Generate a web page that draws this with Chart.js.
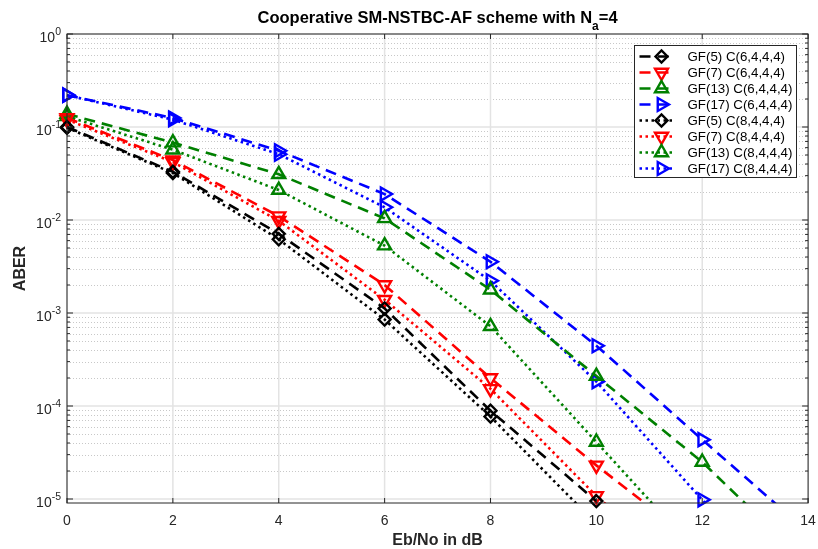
<!DOCTYPE html>
<html>
<head>
<meta charset="utf-8">
<title>ABER vs Eb/No</title>
<script src="https://cdn.jsdelivr.net/npm/chart.js@4.4.0/dist/chart.umd.min.js"></script>
<style>
  html, body { margin: 0; padding: 0; background: #fff; }
  canvas { display: block; }
</style>
</head>
<body>
<canvas id="aber" width="818" height="549"></canvas>
<script>
// Eb/No points (dB) and axis ticks
const ebno = [0, 2, 4, 6, 8, 10, 12, 14];
const xTicks = [0, 2, 4, 6, 8, 10, 12, 14];
const yExponents = [-5, -4, -3, -2, -1, 0];

// ABER, code C(6,4,4,4)
const gf5C6  = [0.100, 0.0330, 0.0071, 0.00112, 8.9e-5, 9.5e-6, null, null];
const gf7C6  = [0.125, 0.0440, 0.0110, 0.00200, 2.0e-4, 2.3e-5, 3.0e-6, null];
const gf13C6 = [0.138, 0.0680, 0.0310, 0.01040, 1.78e-3, 2.1e-4, 2.5e-5, 2.0e-6];
const gf17C6 = [0.220, 0.1250, 0.0556, 0.01900, 3.56e-3, 4.45e-4, 4.35e-5, 4.4e-6];
// ABER, code C(8,4,4,4)
const gf5C8  = [0.098, 0.0320, 0.0062, 0.00085, 7.7e-5, 5.4e-6, null, null];
const gf7C8  = [0.120, 0.0420, 0.0098, 0.00139, 1.53e-4, 1.08e-5, 1.1e-6, null];
const gf13C8 = [0.130, 0.0570, 0.0210, 0.00530, 7.2e-4, 4.1e-5, 2.3e-6, null];
const gf17C8 = [0.220, 0.1200, 0.0510, 0.01370, 2.22e-3, 1.83e-4, 9.8e-6, 5.4e-7];

const Y_MIN = 9.06e-6, Y_MAX = 1;
const FONT = '"Liberation Sans", Arial, Helvetica, sans-serif';
const AXIS = '#262626';
const DASHED = [11, 7];
const DOTTED = [2.5, 3.5];

const series = [
  { label: 'GF(5) C(6,4,4,4)',  data: gf5C6,  color: '#000000', marker: 'rectRot',  rot: 0,   dash: DASHED },
  { label: 'GF(7) C(6,4,4,4)',  data: gf7C6,  color: '#ff0000', marker: 'triangle', rot: 180, dash: DASHED },
  { label: 'GF(13) C(6,4,4,4)', data: gf13C6, color: '#008000', marker: 'triangle', rot: 0,   dash: DASHED },
  { label: 'GF(17) C(6,4,4,4)', data: gf17C6, color: '#0000ff', marker: 'triangle', rot: 90,  dash: DASHED },
  { label: 'GF(5) C(8,4,4,4)',  data: gf5C8,  color: '#000000', marker: 'rectRot',  rot: 0,   dash: DOTTED },
  { label: 'GF(7) C(8,4,4,4)',  data: gf7C8,  color: '#ff0000', marker: 'triangle', rot: 180, dash: DOTTED },
  { label: 'GF(13) C(8,4,4,4)', data: gf13C8, color: '#008000', marker: 'triangle', rot: 0,   dash: DOTTED },
  { label: 'GF(17) C(8,4,4,4)', data: gf17C8, color: '#0000ff', marker: 'triangle', rot: 90,  dash: DOTTED },
];

const markerRadius = m => (m === 'rectRot' ? 6 : 7.5);

// each curve is a clipped line plus an unclipped marker set
const datasets = [];
series.forEach(s => {
  const pts = s.data.map((v, i) => ({ x: ebno[i], y: v }));
  datasets.push({
    label: s.label,
    data: pts,
    borderColor: s.color,
    borderWidth: 2.6,
    borderDash: s.dash,
    pointRadius: 0,
    fill: false,
    tension: 0,
    clip: { left: 2, right: 2, top: 2, bottom: 0 },
  });
  datasets.push({
    label: s.label + ' markers',
    data: pts.filter(p => p.y !== null && p.y >= Y_MIN),
    showLine: false,
    pointStyle: s.marker,
    pointRotation: s.rot,
    pointRadius: markerRadius(s.marker),
    pointBorderColor: s.color,
    pointBackgroundColor: 'rgba(0,0,0,0)',
    pointBorderWidth: 2.4,
    clip: false,
  });
});

function seg(ctx, x1, y1, x2, y2) {
  ctx.beginPath(); ctx.moveTo(x1, y1); ctx.lineTo(x2, y2); ctx.stroke();
}

function drawMarker(ctx, style, rot, r, x, y) {
  ctx.beginPath();
  if (style === 'rectRot') {
    ctx.moveTo(x - r, y); ctx.lineTo(x, y - r); ctx.lineTo(x + r, y); ctx.lineTo(x, y + r);
  } else {
    let a = rot * Math.PI / 180;
    ctx.moveTo(x + Math.sin(a) * r, y - Math.cos(a) * r);
    for (let k = 0; k < 2; k++) {
      a += 2 * Math.PI / 3;
      ctx.lineTo(x + Math.sin(a) * r, y - Math.cos(a) * r);
    }
  }
  ctx.closePath();
  ctx.stroke();
}

const matlabAxes = {
  id: 'matlabAxes',
  beforeDatasetsDraw(chart) {
    const { ctx, chartArea: a, scales: { x, y } } = chart;
    ctx.save();
    ctx.lineWidth = 1;
    // minor grid (dotted) on the log axis
    ctx.strokeStyle = '#c8c8c8';
    ctx.setLineDash([1, 2]);
    yExponents.forEach(e => {
      for (let k = 2; k <= 9; k++) {
        const v = k * Math.pow(10, e);
        if (v < Y_MIN || v > Y_MAX) continue;
        const py = Math.round(y.getPixelForValue(v)) + 0.5;
        seg(ctx, a.left, py, a.right, py);
      }
    });
    // major grid
    ctx.setLineDash([]);
    ctx.strokeStyle = '#e3e3e3';
    ctx.lineWidth = 1.5;
    xTicks.forEach(t => {
      const px = x.getPixelForValue(t);
      seg(ctx, px, a.top, px, a.bottom);
    });
    yExponents.forEach(e => {
      const py = y.getPixelForValue(Math.pow(10, e));
      seg(ctx, a.left, py, a.right, py);
    });
    ctx.restore();
  },
  afterDatasetsDraw(chart) {
    const { ctx, chartArea: a, scales: { x, y } } = chart;
    ctx.save();
    ctx.strokeStyle = AXIS;
    ctx.lineWidth = 1;
    ctx.strokeRect(a.left, a.top, a.right - a.left, a.bottom - a.top);

    // tick marks
    xTicks.forEach(t => {
      const px = x.getPixelForValue(t);
      seg(ctx, px, a.bottom, px, a.bottom - 5);
      seg(ctx, px, a.top, px, a.top + 5);
    });
    yExponents.forEach(e => {
      const py = y.getPixelForValue(Math.pow(10, e));
      seg(ctx, a.left, py, a.left + 6, py);
      seg(ctx, a.right, py, a.right - 6, py);
      for (let k = 2; k <= 9; k++) {
        const v = k * Math.pow(10, e);
        if (v < Y_MIN || v > Y_MAX) continue;
        const pm = y.getPixelForValue(v);
        seg(ctx, a.left, pm, a.left + 3, pm);
        seg(ctx, a.right, pm, a.right - 3, pm);
      }
    });

    // tick labels
    ctx.fillStyle = AXIS;
    ctx.textBaseline = 'alphabetic';
    ctx.font = '14px ' + FONT;
    ctx.textAlign = 'center';
    xTicks.forEach(t => ctx.fillText(String(t), x.getPixelForValue(t), a.bottom + 22));

    ctx.textAlign = 'left';
    yExponents.forEach(e => {
      const py = y.getPixelForValue(Math.pow(10, e));
      const exp = e === 0 ? '0' : '-' + Math.abs(e);
      ctx.font = '10.5px ' + FONT;
      const we = ctx.measureText(exp).width;
      ctx.font = '14px ' + FONT;
      const wb = ctx.measureText('10').width;
      const right = a.left - 6;
      ctx.fillText('10', right - we - wb, py + 8);
      ctx.font = '10.5px ' + FONT;
      ctx.fillText(exp, right - we, py + 1);
    });

    // axis titles
    ctx.fillStyle = AXIS;
    ctx.font = 'bold 16px ' + FONT;
    ctx.textAlign = 'center';
    ctx.fillText('Eb/No in dB', (a.left + a.right) / 2, 545);
    ctx.save();
    ctx.translate(25, (a.top + a.bottom) / 2);
    ctx.rotate(-Math.PI / 2);
    ctx.fillText('ABER', 0, 0);
    ctx.restore();

    // title with subscript
    ctx.fillStyle = '#000';
    const main = 'Cooperative SM-NSTBC-AF scheme with N';
    const sub = 'a', tail = '=4';
    ctx.font = 'bold 16.5px ' + FONT;
    const w1 = ctx.measureText(main).width, w3 = ctx.measureText(tail).width;
    ctx.font = 'bold 12px ' + FONT;
    const w2 = ctx.measureText(sub).width;
    let tx = (a.left + a.right) / 2 - (w1 + w2 + w3) / 2;
    ctx.textAlign = 'left';
    ctx.font = 'bold 16.5px ' + FONT;
    ctx.fillText(main, tx, 23);
    ctx.font = 'bold 12px ' + FONT;
    ctx.fillText(sub, tx + w1, 30);
    ctx.font = 'bold 16.5px ' + FONT;
    ctx.fillText(tail, tx + w1 + w2, 23);
    ctx.restore();
  },
  afterDraw(chart) {
    // legend box, top right inside the axes
    const { ctx } = chart;
    const L = 634.5, T = 45.5, W = 162, rowH = 16, H = series.length * rowH + 4;
    ctx.save();
    ctx.fillStyle = '#fff';
    ctx.fillRect(L, T, W, H);
    ctx.strokeStyle = AXIS;
    ctx.lineWidth = 1;
    ctx.strokeRect(L, T, W, H);
    series.forEach((s, i) => {
      const cy = T + 11 + i * rowH;
      ctx.strokeStyle = s.color;
      ctx.lineWidth = 2.6;
      ctx.setLineDash(s.dash);
      seg(ctx, L + 5, cy, L + 41, cy);
      ctx.setLineDash([]);
      ctx.lineWidth = 2.4;
      drawMarker(ctx, s.marker, s.rot, markerRadius(s.marker), L + 27, cy);
      ctx.fillStyle = '#000';
      ctx.font = '13.3px ' + FONT;
      ctx.textAlign = 'left';
      ctx.textBaseline = 'middle';
      ctx.fillText(s.label, L + 53, cy + 1);
    });
    ctx.restore();
  }
};

new Chart(document.getElementById('aber'), {
  type: 'line',
  data: { datasets },
  options: {
    responsive: false,
    animation: false,
    devicePixelRatio: 1,
    layout: { padding: { left: 67, right: 8, top: 34, bottom: 46 } },
    plugins: { legend: { display: false }, title: { display: false }, tooltip: { enabled: false } },
    scales: {
      x: { type: 'linear', min: 0, max: 14, display: false },
      y: { type: 'logarithmic', min: Y_MIN, max: Y_MAX, display: false },
    },
  },
  plugins: [matlabAxes],
});
</script>
</body>
</html>
